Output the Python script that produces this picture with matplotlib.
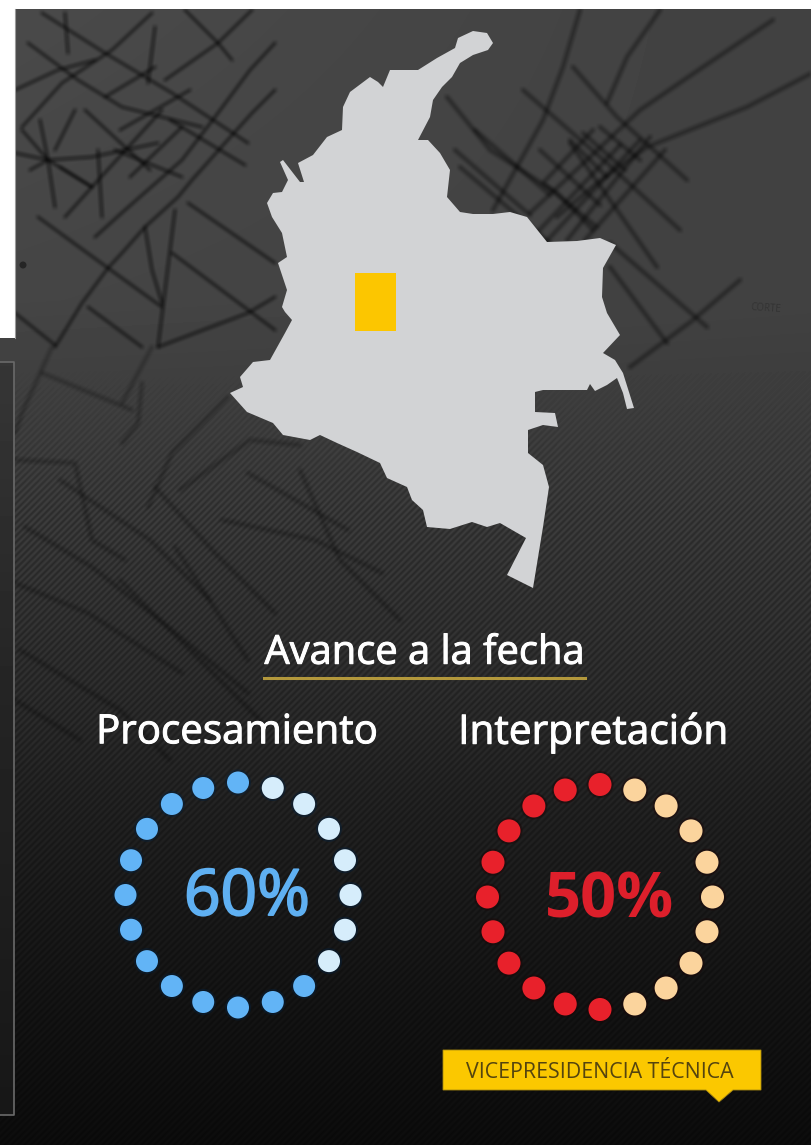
import numpy as np
import matplotlib
matplotlib.use("Agg")
import matplotlib.pyplot as plt
import matplotlib.patheffects as pe
from matplotlib.collections import LineCollection
from matplotlib.patches import Circle, Polygon, Rectangle

W, H = 812, 1145

# vertical fade of the background
bg_y = [0, 300, 400, 500, 600, 700, 800, 900, 1000, 1145]
bg_gray = [0x4a, 0x45, 0x3e, 0x36, 0x2f, 0x28, 0x1f, 0x18, 0x12, 0x0b]
# the top right corner is a little darker than the top left
bg_side_drop = 9

# outline of the map, image pixels
map_outline = [
    (493, 43), (488, 50), (473, 55), (460, 63), (452, 77), (442, 87), (433, 100),
    (430, 117), (418, 140), (428, 140), (440, 153), (450, 170), (447, 197),
    (460, 212), (473, 214), (493, 214), (510, 212), (527, 217), (547, 242),
    (577, 241), (600, 238), (616, 245), (603, 268), (602, 297), (607, 313),
    (620, 335), (603, 353), (615, 360), (623, 373), (634, 408), (627, 409),
    (623, 393), (617, 378), (607, 385), (595, 391), (590, 384), (587, 390),
    (543, 390), (535, 392), (535, 412), (555, 413), (558, 427), (543, 425),
    (528, 430), (528, 453), (543, 465), (549, 487), (543, 527), (533, 588),
    (507, 575), (526, 538), (500, 523), (487, 527), (472, 522), (450, 529),
    (427, 527), (423, 510), (412, 500), (407, 487), (387, 478), (380, 463),
    (357, 452), (337, 443), (320, 435), (310, 440), (283, 435), (273, 423),
    (247, 412), (230, 393), (243, 387), (240, 377), (253, 362), (270, 360),
    (285, 333), (292, 320), (285, 312), (282, 307), (287, 290), (278, 263),
    (287, 257), (282, 233), (272, 217), (267, 203), (273, 193), (282, 192),
    (288, 180), (280, 162), (283, 160), (300, 182), (304, 182), (298, 163),
    (313, 155), (327, 137), (342, 130), (343, 107), (350, 92), (370, 77),
    (378, 82), (383, 87), (390, 70), (418, 70), (437, 58), (455, 48),
    (458, 38), (473, 31), (487, 33),
]

# survey lines behind the map, image pixels
lines_top_left = [
    [(55, 347), (82, 303), (108, 268), (122, 253), (145, 227), (178, 197), (192, 180), (225, 143), (252, 113), (275, 90)],
    [(38, 217), (108, 268), (162, 307)],
    [(15, 313), (55, 345)],
    [(88, 307), (142, 347)],
    [(95, 237), (125, 210), (182, 160), (215, 117), (250, 70), (275, 43)],
    [(65, 217), (92, 187), (162, 110)],
    [(22, 127), (62, 83), (112, 50), (152, 13)],
    [(42, 13), (105, 53), (172, 93), (248, 143)],
    [(185, 10), (218, 43), (232, 60)],
    [(165, 80), (218, 43), (252, 10)],
    [(28, 43), (78, 80), (122, 107), (202, 127)],
    [(15, 90), (58, 70), (95, 60)],
    [(48, 160), (55, 207)],
    [(22, 130), (48, 160), (92, 187)],
    [(15, 153), (48, 160), (92, 157), (158, 143)],
    [(65, 13), (68, 53)],
    [(155, 27), (148, 83)],
    [(98, 150), (102, 217)],
    [(75, 110), (55, 150)],
    [(145, 227), (152, 270), (162, 303)],
    [(175, 210), (158, 347)],
    [(188, 203), (275, 263)],
    [(172, 253), (275, 330)],
    [(275, 297), (248, 313), (158, 347)],
    # denser part around the star
    [(130, 177), (182, 127)],
    [(105, 97), (155, 67)],
    [(115, 150), (182, 177)],
    [(60, 167), (92, 187)],
    [(85, 110), (150, 170)],
    [(30, 170), (48, 160), (40, 120)],
    [(120, 130), (190, 90)],
    [(170, 120), (245, 165)],
]
lines_top_right = [
    [(580, 10), (563, 67), (543, 120), (493, 210)],
    [(660, 10), (627, 57), (607, 103)],
    [(773, 20), (703, 67), (640, 110), (573, 173), (530, 213)],
    [(812, 73), (747, 107), (647, 147), (597, 183), (557, 217)],
    [(740, 280), (693, 320), (630, 367)],
    [(447, 97), (490, 150), (557, 193), (593, 230)],
    [(460, 167), (550, 243)],
    [(573, 67), (617, 117), (687, 180)],
    [(523, 90), (607, 163), (680, 230)],
    [(570, 143), (657, 267)],
    [(610, 243), (707, 327)],
    [(610, 267), (667, 343)],
    [(593, 130), (543, 183), (597, 227)],
    # the dense grid left of centre
    [(530, 240), (620, 145)],
    [(545, 243), (640, 140)],
    [(567, 240), (650, 137)],
    [(585, 240), (665, 150)],
    [(570, 140), (607, 177)],
    [(583, 133), (625, 170)],
    [(600, 127), (640, 160)],
    [(475, 130), (550, 195)],
    [(455, 150), (530, 215)],
    [(540, 150), (600, 205)],
]
lines_mid_left = [
    [(52, 347), (22, 413), (15, 433)],
    [(42, 373), (132, 410)],
    [(152, 347), (122, 403)],
    [(142, 383), (138, 423), (122, 443)],
    [(228, 397), (172, 453), (148, 507)],
    [(15, 460), (75, 463), (92, 540), (125, 560)],
    [(25, 527), (92, 567), (172, 630), (248, 693)],
    [(155, 487), (215, 553), (275, 613)],
    [(222, 520), (315, 540), (382, 573)],
    [(248, 473), (348, 530)],
    [(15, 583), (88, 613), (182, 673)],
    [(175, 547), (192, 573), (248, 660)],
    [(20, 650), (120, 710), (170, 760)],
    [(60, 480), (150, 540), (210, 600)],
    [(120, 580), (200, 660), (260, 720)],
    [(300, 470), (340, 560), (400, 620)],
    [(180, 490), (250, 440), (300, 445)],
    [(15, 700), (80, 740)],
]

yellow_box = (355, 273, 41, 58)

n_dots = 20
blue_light = 7
red_light = 9
blue_dark_color = "#62b4f6"
blue_light_color = "#d6edfb"
red_dark_color = "#e8212b"
red_light_color = "#fbd49d"

title = "Avance a la fecha"
left_label = "Procesamiento"
right_label = "Interpretación"
left_value = "60%"
right_value = "50%"
banner_text = "VICEPRESIDENCIA TÉCNICA"


def soften(image, dpi, r=2):
    """Box blur for the survey lines, they are out of focus in the picture."""
    pad = 2 * r + 2
    img = np.pad(image, ((pad, pad), (pad, pad), (0, 0)))
    # the empty filter buffer is white with no alpha, the lines are black
    img[..., :3] = 0
    for axis in (0, 1):
        img = sum(np.roll(img, k, axis=axis) for k in range(-r, r + 1)) / (2 * r + 1)
    return img, -pad, -pad


def ring(ax, cx, cy, r, dot_r, light, light_color, dark_color, halo):
    """Dots clockwise from the top, the first one is at 12 o'clock."""
    for i in range(n_dots):
        a = 2 * np.pi * i / n_dots
        x = cx + r * np.sin(a)
        y = cy - r * np.cos(a)
        color = light_color if 1 <= i <= light else dark_color
        ax.add_patch(Circle((x, y), dot_r + 2, fc=halo, ec="none", alpha=0.45, zorder=6))
        ax.add_patch(Circle((x, y), dot_r, fc=color, ec="none", zorder=7))


plt.rcParams["font.family"] = ["Open Sans", "DejaVu Sans"]

fig = plt.figure(figsize=(W / 100, H / 100), dpi=100)
ax = fig.add_axes([0, 0, 1, 1])

# background with the diagonal stripes, which only show from about y=380 down
yy, xx = np.mgrid[0:H, 0:W]
gray = np.interp(yy, bg_y, bg_gray).astype(float)
gray -= bg_side_drop * (xx / W) * np.clip(1 - yy / 500, 0, 1)
fade = np.clip((yy - 370) / 140, 0, 1)
stripes = np.sin(2 * np.pi * (xx + yy) / 6.5)
gray = gray * (1 + 0.16 * fade * stripes)
ax.imshow(gray, cmap="gray", vmin=0, vmax=255, extent=(0, W, H, 0),
          interpolation="bilinear", zorder=1)

for lines, alpha, lw in [(lines_top_left, 0.55, 2.2), (lines_top_right, 0.36, 3.2), (lines_mid_left, 0.24, 3.0)]:
    lc = LineCollection(lines, colors="black", linewidths=lw, alpha=alpha,
                        capstyle="round", zorder=2)
    lc.set_agg_filter(soften)
    ax.add_collection(lc)
ax.add_patch(Circle((23, 265), 3.5, fc="black", ec="none", alpha=0.45, zorder=2))
ax.text(750, 309, "CORTE", color="#2a2a2a", fontsize=7, alpha=0.6, rotation=-4,
        va="center", zorder=2)

ax.add_patch(Polygon(map_outline, closed=True, fc="#d2d3d5", ec="none", zorder=3))
ax.add_patch(Rectangle(yellow_box[:2], yellow_box[2], yellow_box[3], fc="#fcc600", ec="none", zorder=4))

# white page around the picture and the dark panel on the left
ax.add_patch(Rectangle((0, 0), W, 9, fc="white", ec="none", zorder=5))
ax.add_patch(Rectangle((0, 0), 15, 338, fc="white", ec="none", zorder=5))
ax.plot([15, 15], [9, 338], color="#9a9a9a", lw=0.8, zorder=5)
panel = np.interp(np.arange(362, 1115), [362, 700, 1115], [0x36, 0x24, 0x17]).reshape(-1, 1)
ax.imshow(panel, cmap="gray", vmin=0, vmax=255, extent=(0, 14, 1115, 362),
          aspect="auto", zorder=5)
ax.plot([0, 14, 14, 0], [362, 362, 1115, 1115], color="#6a6a6a", lw=1.2, zorder=5)

# a thin stroke gives the slightly heavier weight of the original type
heavy = [pe.withStroke(linewidth=0.7, foreground="white")]
ax.text(425, 653.5, title, color="white", fontsize=28.7, ha="center", va="center",
        path_effects=heavy, zorder=8)
ax.plot([264, 585], [678, 678], color="#b3983c", lw=2.2, zorder=8)
ax.text(237, 733, left_label, color="white", fontsize=29, ha="center", va="center",
        path_effects=heavy, zorder=8)
ax.text(593, 733, right_label, color="white", fontsize=29.2, ha="center", va="center",
        path_effects=heavy, zorder=8)

ring(ax, 238, 895, 112.5, 11, blue_light, blue_light_color, blue_dark_color, "#04203c")
ring(ax, 600, 897, 112.5, 11.5, red_light, red_light_color, red_dark_color, "#1c0606")
ax.text(247, 898, left_value, color="#5fb0f2", fontsize=46, ha="center", va="center",
        path_effects=[pe.withStroke(linewidth=1.4, foreground="#5fb0f2")], zorder=8)
ax.text(610, 901, right_value, color="#dd1f2b", fontsize=45.5, fontweight="bold",
        ha="center", va="center", zorder=8)

ax.add_patch(Polygon([(443, 1050), (761, 1050), (761, 1090), (733, 1090), (719, 1102),
                      (706, 1090), (443, 1090)], closed=True, fc="#fbc800", ec="#a98a10",
                     lw=0.6, zorder=8))
ax.text(600, 1072.5, banner_text, color="#54440f", fontsize=15.4, ha="center", va="center", zorder=9)

ax.set_xlim(0, W)
ax.set_ylim(H, 0)
ax.axis("off")
fig.savefig("out.png", dpi=100)
